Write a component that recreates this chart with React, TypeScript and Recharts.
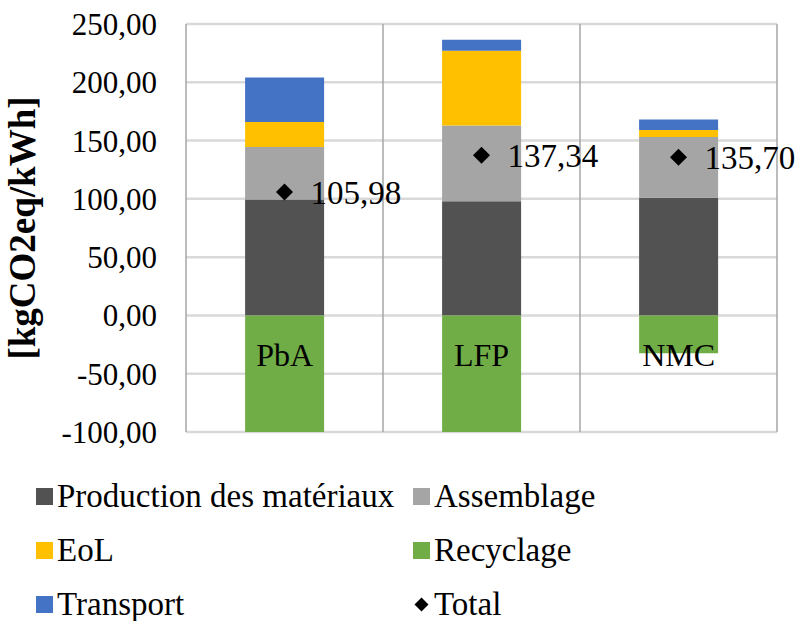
import { ComposedChart, Bar, Line, XAxis, YAxis, CartesianGrid, Legend, LabelList, Label } from "recharts";

const FONT = "'Liberation Serif', 'Times New Roman', serif";

const categories = ["PbA", "LFP", "NMC"];
const production = [99.5, 98, 101];
const assemblage = [45, 65, 52];
const eol = [21.5, 64, 6];
const transport = [38, 9.5, 9];
const recyclage = [-100, -100, -32.5];
const totals = [105.98, 137.34, 135.7];

const yTicks = [-100, -50, 0, 50, 100, 150, 200, 250];

const seriesNames = ["Production des matériaux", "Assemblage", "EoL", "Recyclage", "Transport", "Total"];
const seriesColors = ["#525252", "#a5a5a5", "#ffc000", "#70ad47", "#4472c4", "#000000"];

const data = categories.map((name, i) => ({
  name,
  production: production[i],
  assemblage: assemblage[i],
  eol: eol[i],
  recyclage: recyclage[i],
  transport: transport[i],
  total: totals[i],
}));

const fmt = (v: number) => v.toFixed(2).replace(".", ",");

// category names sit just under the zero line, over the recycling bars
function CategoryLabel(props: any) {
  const { x, y, width, height, value } = props;
  const zeroY = Math.min(y, y + height);
  return (
    <text x={x + width / 2} y={zeroY + 51} textAnchor="middle" fontSize={32} fontFamily={FONT} fill="#000">
      {value}
    </text>
  );
}

function Diamond(props: any) {
  const { cx, cy } = props;
  if (cx == null || cy == null) return null;
  const r = 8.5;
  return <path d={`M${cx},${cy - r}L${cx + r},${cy}L${cx},${cy + r}L${cx - r},${cy}Z`} fill="#000" />;
}

function YTitle(props: any) {
  const { viewBox } = props;
  const x = viewBox.x + 22;
  const y = viewBox.y + viewBox.height / 2;
  return (
    <text
      x={x}
      y={y}
      transform={`rotate(-90, ${x}, ${y})`}
      textAnchor="middle"
      dominantBaseline="central"
      fontSize={37}
      fontWeight="bold"
      fontFamily={FONT}
      fill="#000"
    >
      [kgCO2eq/kWh]
    </text>
  );
}

function LegendBox() {
  return (
    <div
      style={{
        display: "grid",
        gridTemplateColumns: "377px 360px",
        gridAutoRows: "54px",
        fontFamily: FONT,
        fontSize: 33,
        color: "#000",
      }}
    >
      {seriesNames.map((n, i) => (
        <div key={n} style={{ display: "flex", alignItems: "center", whiteSpace: "nowrap" }}>
          {n === "Total" ? (
            <svg width={17} height={17} style={{ marginRight: 4 }}>
              <path d="M8.5,1.5L15.5,8.5L8.5,15.5L1.5,8.5Z" fill="#000" />
            </svg>
          ) : (
            <span style={{ display: "inline-block", width: 17, height: 17, background: seriesColors[i], marginRight: 4 }} />
          )}
          <span>{n}</span>
        </div>
      ))}
    </div>
  );
}

export default function App() {
  return (
    <div style={{ position: "absolute", left: 0, top: 0, width: 800, height: 621, background: "#fff" }}>
      <ComposedChart
        width={800}
        height={621}
        data={data}
        stackOffset="sign"
        barCategoryGap="30%"
        margin={{ top: 24, right: 23, bottom: 189, left: 0 }}
      >
        <CartesianGrid stroke="#d9d9d9" strokeWidth={2.5} vertical={false} />
        <CartesianGrid
          stroke="#a6a6a6"
          strokeWidth={1.5}
          horizontal={false}
          verticalCoordinatesGenerator={({ offset }: any) =>
            [0, 1, 2, 3].map((i) => offset.left + (offset.width * i) / categories.length)
          }
        />
        <XAxis dataKey="name" axisLine={false} tickLine={false} tick={false} height={0} />
        <YAxis
          width={186}
          domain={[-100, 250]}
          ticks={yTicks}
          interval={0}
          tickFormatter={fmt}
          axisLine={false}
          tickLine={false}
          tickSize={0}
          tickMargin={29}
          tick={{ fontSize: 31, fontFamily: FONT, fill: "#000" }}
        >
          <Label content={<YTitle />} />
        </YAxis>
        <Bar dataKey="production" stackId="a" fill={seriesColors[0]} isAnimationActive={false} />
        <Bar dataKey="assemblage" stackId="a" fill={seriesColors[1]} isAnimationActive={false} />
        <Bar dataKey="eol" stackId="a" fill={seriesColors[2]} isAnimationActive={false} />
        <Bar dataKey="transport" stackId="a" fill={seriesColors[4]} isAnimationActive={false} />
        <Bar dataKey="recyclage" stackId="a" fill={seriesColors[3]} isAnimationActive={false}>
          <LabelList dataKey="name" content={<CategoryLabel />} />
        </Bar>
        <Line dataKey="total" stroke="none" dot={<Diamond />} activeDot={false} isAnimationActive={false}>
          <LabelList
            dataKey="total"
            position="right"
            offset={26}
            formatter={(v: any) => fmt(Number(v))}
            style={{ fontSize: 33, fontFamily: FONT, fill: "#000" }}
          />
        </Line>
        <Legend
          layout="horizontal"
          verticalAlign="middle"
          align="center"
          wrapperStyle={{ left: 36, top: 469, width: 760, height: 162 }}
          content={() => <LegendBox />}
        />
      </ComposedChart>
    </div>
  );
}
